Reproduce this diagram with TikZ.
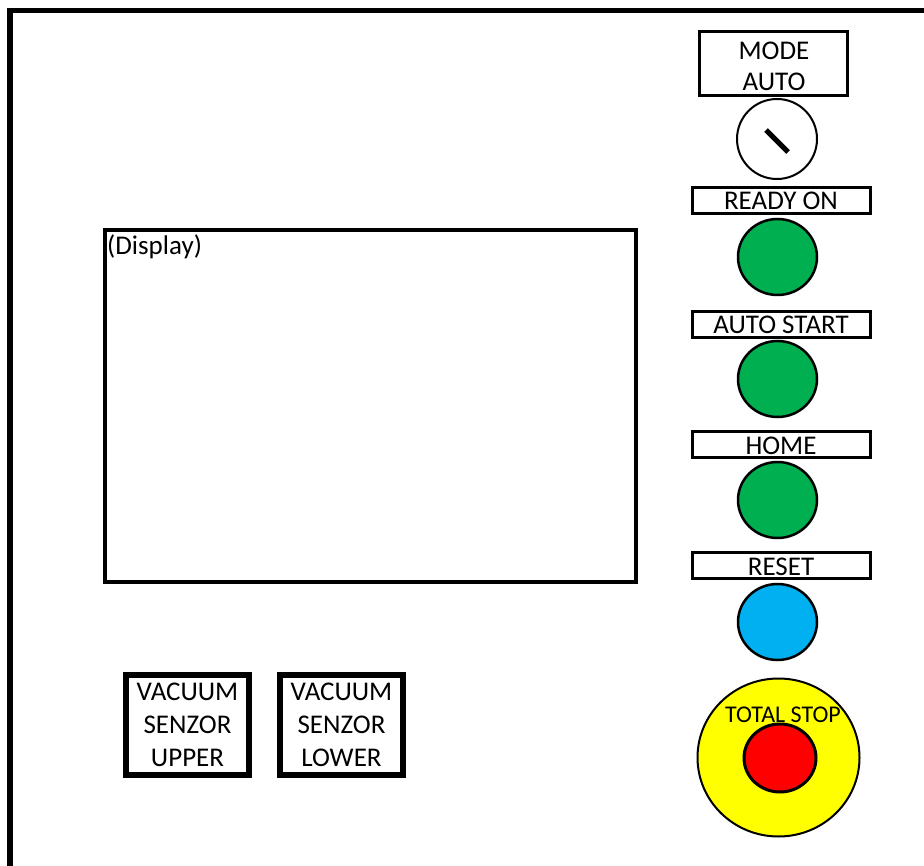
\documentclass[tikz,border=0pt]{standalone}
\usepackage{fontspec}
\setmainfont{Carlito}
\usetikzlibrary{shapes.geometric}
\definecolor{btngreen}{HTML}{00B050}
\definecolor{btnblue}{HTML}{00B0F0}
\definecolor{btnyellow}{HTML}{FFFF00}
\definecolor{btnred}{HTML}{FF0000}
\begin{document}
\begin{tikzpicture}[x=1pt,y=-1pt,
  lbl/.style={draw,line width=3pt,minimum width=178pt,minimum height=26pt,inner sep=0pt,text height=19pt,text depth=0pt,font=\fontsize{27}{31}\selectfont},
  btn/.style={draw,line width=2.5pt,ellipse,minimum width=79pt,minimum height=76pt,inner sep=0pt},
  vac/.style={draw,line width=6pt,minimum width=123pt,minimum height=100pt,inner sep=0pt,align=center,font=\fontsize{27}{33}\selectfont}]
\useasboundingbox (0,0) rectangle (924,866);
% outer frame
\draw[line width=5.5pt] (10,866) -- (10,10.5) -- (924,10.5);
% display
\draw[line width=4pt] (105,230) rectangle (636,582);
\node[anchor=base west,inner sep=0pt,font=\fontsize{27}{31}\selectfont] (disp) at (107,255) {(Display)};
% mode
\node[draw,line width=3pt,minimum width=148pt,minimum height=64pt,inner sep=0pt] (mode) at (773,64) {};
\node[align=center,inner sep=0pt,font=\fontsize{27}{31}\selectfont] (modetxt) at (774,66) {MODE\\AUTO};
\node[draw,circle,line width=2pt,minimum size=80pt,inner sep=0pt] (key) at (777,139) {};
\draw[line width=5pt] (766,130) -- (788,152);
% labels and buttons
\node[lbl] (lready) at (781,200.5) {READY ON};
\node[btn,fill=btngreen] (bready) at (777.5,257) {};
\node[lbl] (lauto) at (781,324.5) {AUTO START};
\node[btn,fill=btngreen] (bauto) at (777.5,379) {};
\node[lbl] (lhome) at (781,444.5) {HOME};
\node[btn,fill=btngreen] (bhome) at (777.5,500) {};
\node[lbl] (lreset) at (781,565.5) {RESET};
\node[btn,fill=btnblue] (breset) at (777.5,622) {};
% total stop
\node[draw,ellipse,line width=2pt,fill=btnyellow,minimum width=162pt,minimum height=158pt,inner sep=0pt] (stop) at (778.5,757.5) {};
\node[draw,ellipse,line width=3pt,fill=btnred,minimum width=72pt,minimum height=68pt,inner sep=0pt] (stopbtn) at (780,758) {};
\node[anchor=base,inner sep=0pt,font=\fontsize{24}{28}\selectfont] (stoplbl) at (783,722) {TOTAL STOP};
% vacuum sensors
\node[vac] (vup) at (187.5,725) {VACUUM\\SENZOR\\UPPER};
\node[vac] (vlow) at (341.5,725) {VACUUM\\SENZOR\\LOWER};
\end{tikzpicture}
\end{document}
